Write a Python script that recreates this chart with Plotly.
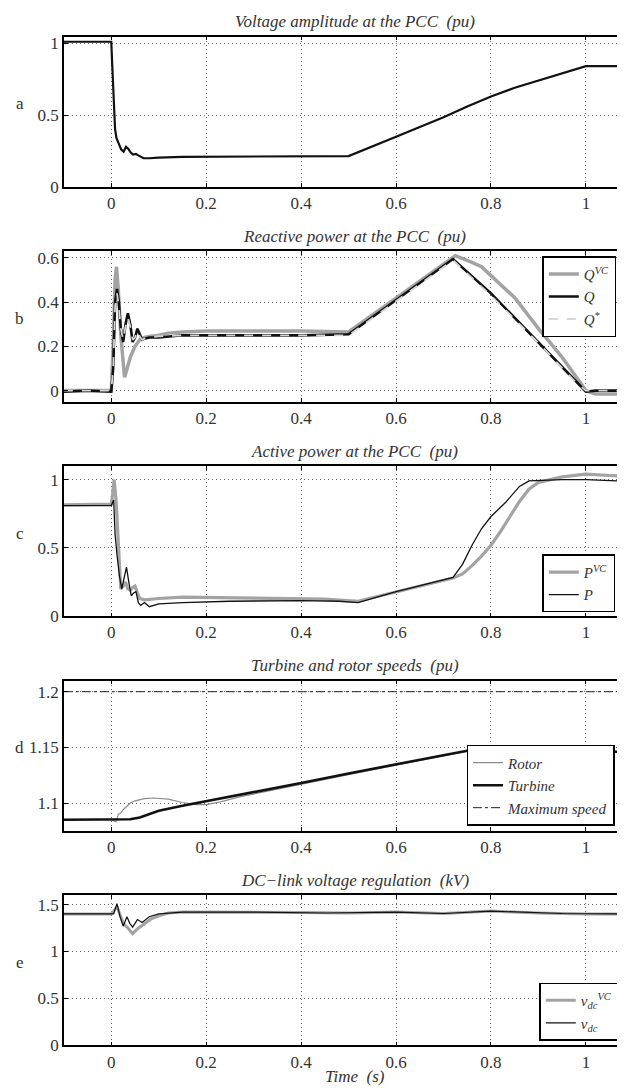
import plotly.graph_objects as go

# ---------------- data ----------------
# a) voltage amplitude at PCC
t_v = [-0.1, 0.0, 0.002, 0.005, 0.008, 0.011, 0.016, 0.021, 0.026, 0.031, 0.036, 0.041, 0.046,
       0.052, 0.057, 0.062, 0.068, 0.08, 0.1, 0.15, 0.3, 0.5, 0.6, 0.7, 0.75, 0.8, 0.85, 0.9,
       0.95, 1.0, 1.1]
v_pcc = [1.01, 1.01, 0.85, 0.6, 0.4, 0.34, 0.3, 0.26, 0.245, 0.28, 0.265, 0.24, 0.225,
         0.23, 0.22, 0.21, 0.2, 0.2, 0.205, 0.21, 0.212, 0.215, 0.35, 0.485, 0.56, 0.63, 0.69, 0.74,
         0.79, 0.84, 0.84]

# b) reactive power
t_qvc = [-0.1, 0.0, 0.004, 0.008, 0.011, 0.015, 0.02, 0.025, 0.028, 0.032, 0.04, 0.05, 0.06,
         0.07, 0.08, 0.1, 0.12, 0.15, 0.2, 0.3, 0.4, 0.5, 0.725, 0.76, 0.78, 0.8, 0.85, 0.9,
         0.95, 1.0, 1.02, 1.1]
q_vc = [0.0, 0.0, 0.2, 0.5, 0.56, 0.45, 0.25, 0.1, 0.06, 0.09, 0.15, 0.2, 0.23,
        0.24, 0.245, 0.25, 0.26, 0.265, 0.27, 0.27, 0.27, 0.265, 0.61, 0.58, 0.56, 0.52, 0.42, 0.28,
        0.15, 0.0, -0.015, -0.015]
t_q = [-0.1, -0.05, 0.0, 0.004, 0.008, 0.012, 0.016, 0.02, 0.025, 0.03, 0.035, 0.04, 0.045,
       0.05, 0.055, 0.06, 0.065, 0.07, 0.08, 0.1, 0.15, 0.2, 0.3, 0.4, 0.5, 0.72, 0.8, 0.9,
       0.98, 1.0, 1.02, 1.1]
q = [-0.005, 0.0, -0.005, 0.1, 0.4, 0.46, 0.4, 0.28, 0.22, 0.3, 0.35, 0.3, 0.22,
     0.24, 0.28, 0.25, 0.23, 0.235, 0.24, 0.24, 0.25, 0.25, 0.25, 0.25, 0.255, 0.595, 0.44, 0.22,
     0.04, -0.005, 0.0, 0.0]
q_ref = [0.0, 0.0, 0.0, 0.1, 0.38, 0.44, 0.38, 0.28, 0.23, 0.29, 0.33, 0.29, 0.23,
         0.24, 0.27, 0.245, 0.23, 0.235, 0.24, 0.245, 0.25, 0.25, 0.25, 0.25, 0.25, 0.59, 0.43, 0.215,
         0.035, 0.0, 0.0, 0.0]

# c) active power
t_pvc = [-0.1, 0.0, 0.003, 0.006, 0.01, 0.015, 0.02, 0.025, 0.03, 0.035, 0.04, 0.045, 0.05,
         0.055, 0.06, 0.07, 0.1, 0.15, 0.3, 0.45, 0.52, 0.6, 0.68, 0.72, 0.74, 0.76, 0.78, 0.8,
         0.82, 0.84, 0.86, 0.88, 0.9, 0.95, 1.0, 1.05, 1.1]
p_vc = [0.815, 0.82, 0.9, 1.0, 0.85, 0.5, 0.2, 0.22, 0.25, 0.2, 0.19, 0.21, 0.22,
        0.17, 0.13, 0.12, 0.13, 0.14, 0.135, 0.125, 0.11, 0.18, 0.25, 0.28, 0.31, 0.37, 0.44, 0.52,
        0.62, 0.73, 0.84, 0.93, 0.98, 1.02, 1.04, 1.03, 1.02]
t_p = [-0.1, 0.0, 0.005, 0.008, 0.012, 0.017, 0.022, 0.027, 0.032, 0.037, 0.042, 0.047, 0.052,
       0.057, 0.062, 0.07, 0.08, 0.1, 0.15, 0.25, 0.4, 0.48, 0.52, 0.6, 0.68, 0.72, 0.74, 0.76,
       0.78, 0.8, 0.83, 0.86, 0.88, 0.95, 1.0, 1.1]
p = [0.81, 0.81, 0.85, 0.6, 0.45, 0.3, 0.2, 0.28, 0.36, 0.25, 0.15, 0.17, 0.18,
     0.1, 0.08, 0.1, 0.07, 0.09, 0.1, 0.11, 0.115, 0.11, 0.1, 0.18, 0.25, 0.285, 0.38, 0.52,
     0.64, 0.73, 0.83, 0.95, 0.99, 1.0, 1.0, 0.985]

# d) turbine and rotor speeds
t_rot = [-0.1, 0.0, 0.006, 0.01, 0.015, 0.02, 0.025, 0.03, 0.04, 0.05, 0.07, 0.09, 0.12, 0.15,
         0.18, 0.2, 0.23, 0.27, 0.4, 0.5, 0.6, 0.7, 0.75, 0.8, 0.85, 0.9, 0.95, 1.0, 1.1]
w_rot = [1.085, 1.085, 1.084, 1.083, 1.09, 1.091, 1.094, 1.096, 1.1, 1.102, 1.104, 1.1045, 1.1035, 1.1005,
         1.0985, 1.0985, 1.101, 1.1055, 1.117, 1.1255, 1.134, 1.1425, 1.1465, 1.1435, 1.143, 1.145, 1.1495, 1.1475, 1.1455]
t_turb = [-0.1, 0.04, 0.06, 0.08, 0.1, 0.15, 0.2, 0.3, 0.4, 0.5, 0.6, 0.7, 0.75, 0.8, 0.85,
          0.9, 1.0, 1.1]
w_turb = [1.085, 1.0855, 1.087, 1.09, 1.093, 1.0975, 1.1015, 1.1095, 1.118, 1.1265, 1.135, 1.143, 1.147, 1.1505, 1.151,
          1.1495, 1.147, 1.1455]
t_max = [-0.1, 1.1]
w_max = [1.2, 1.2]

# e) DC-link voltage
t_vdcvc = [-0.1, 0.0, 0.005, 0.012, 0.018, 0.025, 0.035, 0.045, 0.055, 0.07, 0.085, 0.1, 0.12,
           0.15, 0.2, 0.4, 0.5, 0.6, 0.7, 0.8, 0.9, 1.0, 1.1]
v_dc_vc = [1.4, 1.4, 1.43, 1.48, 1.4, 1.3, 1.25, 1.19, 1.24, 1.3, 1.35, 1.38, 1.41,
           1.42, 1.42, 1.415, 1.41, 1.42, 1.405, 1.43, 1.41, 1.4, 1.4]
t_vdc = [-0.1, 0.005, 0.012, 0.018, 0.025, 0.033, 0.039, 0.045, 0.055, 0.065, 0.08, 0.1, 0.15,
         0.3, 0.45, 0.6, 0.7, 0.8, 0.95, 1.1]
v_dc = [1.4, 1.4, 1.51, 1.38, 1.27, 1.37, 1.3, 1.26, 1.34, 1.31, 1.37, 1.4, 1.42,
        1.42, 1.41, 1.42, 1.405, 1.43, 1.405, 1.4]

titles = ["Voltage amplitude at the PCC \u00a0(pu)", "Reactive power at the PCC \u00a0(pu)",
          "Active power at the PCC \u00a0(pu)", "Turbine and rotor speeds \u00a0(pu)",
          "DC\u2212link voltage regulation \u00a0(kV)"]
letters = ["a", "b", "c", "d", "e"]
x_ticks = [0, 0.2, 0.4, 0.6, 0.8, 1]
x_labels = ["0", "0.2", "0.4", "0.6", "0.8", "1"]
y_ticks = [[0, 0.5, 1], [0, 0.2, 0.4, 0.6], [0, 0.5, 1], [1.1, 1.15, 1.2], [0, 0.5, 1, 1.5]]
y_ranges = [[0, 1.045], [-0.05, 0.63], [0, 1.1], [1.075, 1.21], [0, 1.6]]

# ---------------- layout geometry ----------------
W, H = 625, 1091
FONT = "Liberation Serif, Times New Roman, Times, serif"
left_px, right_px = 56, 625
tops = [27, 244, 461, 678, 895]
ph = 152

GRAY = "#a3a3a3"
LIGHT = "#d6d6d6"
TXT = "#333333"

fig = go.Figure()


def add(xs, ys, k, name=None, color="black", width=1.5, dash="solid", legend="legend"):
    fig.add_trace(go.Scatter(
        x=xs, y=ys, mode="lines", name=name,
        line=dict(color=color, width=width, dash=dash),
        xaxis="x" if k == 0 else f"x{k+1}", yaxis="y" if k == 0 else f"y{k+1}",
        showlegend=name is not None, legend=legend,
    ))


add(t_v, v_pcc, 0, color="#111111", width=2.2)

add(t_qvc, q_vc, 1, "<i>Q</i><sup><i>VC</i></sup>", GRAY, 3.5, legend="legend")
add(t_q, q, 1, "<i>Q</i>", "#111111", 2.6, legend="legend")
add(t_q, q_ref, 1, "<i>Q</i><sup>*</sup>", LIGHT, 1.8, "dash", legend="legend")

add(t_pvc, p_vc, 2, "<i>P</i><sup><i>VC</i></sup>", GRAY, 3.2, legend="legend2")
add(t_p, p, 2, "<i>P</i>", "#111111", 1.3, legend="legend2")

add(t_rot, w_rot, 3, "<i>Rotor</i>", "#8c8c8c", 1.2, legend="legend3")
add(t_turb, w_turb, 3, "<i>Turbine</i>", "#111111", 2.6, legend="legend3")
add(t_max, w_max, 3, "<i>Maximum speed</i>", "#222222", 1.0, "dashdot", legend="legend3")

add(t_vdcvc, v_dc_vc, 4, "<i>v</i><sub><i>dc</i></sub><sup><i>VC</i></sup>", GRAY, 3.0, legend="legend4")
add(t_vdc, v_dc, 4, "<i>v</i><sub><i>dc</i></sub>", "#111111", 1.2, legend="legend4")

layout = dict(
    width=W, height=H, margin=dict(l=0, r=0, t=0, b=0),
    paper_bgcolor="white", plot_bgcolor="white",
    font=dict(family=FONT, size=17, color=TXT),
)
annotations = []
grid = dict(showgrid=True, gridcolor="#666666", griddash="1px,3px", gridwidth=1, zeroline=False)
for k in range(5):
    sx = "" if k == 0 else str(k + 1)
    top, bot = tops[k], tops[k] + ph
    dom_y = [1 - bot / H, 1 - top / H]
    layout["xaxis" + sx] = dict(
        domain=[left_px / W, right_px / W], range=[-0.1, 1.095], anchor="y" + sx,
        tickvals=x_ticks, ticktext=x_labels,
        ticks="inside", ticklen=4, tickcolor="black", showline=True, linecolor="black",
        linewidth=1.5, mirror="ticks", tickfont=dict(family=FONT, size=17, color=TXT), **grid,
    )
    layout["yaxis" + sx] = dict(
        domain=dom_y, range=y_ranges[k], anchor="x" + sx,
        tickvals=y_ticks[k], ticks="inside", ticklen=4, tickcolor="black", showline=True,
        linecolor="black", linewidth=1.5, mirror="ticks",
        tickfont=dict(family=FONT, size=17, color=TXT), **grid,
    )
    annotations.append(dict(
        text=f"<i>{titles[k]}</i>", xref="paper", yref="paper",
        x=348 / W, y=1 - (top - 15) / H, showarrow=False,
        xanchor="center", yanchor="middle", font=dict(family=FONT, size=17, color=TXT),
    ))
    annotations.append(dict(
        text=letters[k], xref="paper", yref="paper", x=12 / W, y=1 - (top + ph / 2 - 8) / H,
        showarrow=False, xanchor="center", yanchor="middle",
        font=dict(family=FONT, size=17, color=TXT),
    ))
annotations.append(dict(
    text="<i>Time \u00a0(s)</i>", xref="paper", yref="paper", x=348 / W,
    y=1 - 1078 / H, showarrow=False, xanchor="center", yanchor="middle",
    font=dict(family=FONT, size=17, color=TXT),
))
layout["annotations"] = annotations

leg_common = dict(bgcolor="white", bordercolor="black", borderwidth=1.5,
                  font=dict(family=FONT, size=15, color=TXT), xanchor="left",
                  itemwidth=30, tracegroupgap=0)
layout["legend"] = dict(leg_common, x=536 / W, y=1 - 249 / H, yanchor="top")
layout["legend2"] = dict(leg_common, x=536 / W, y=1 - 609 / H, yanchor="bottom")
layout["legend3"] = dict(leg_common, x=460 / W, y=1 - 825 / H, yanchor="bottom")
layout["legend4"] = dict(leg_common, x=533 / W, y=1 - 1042 / H, yanchor="bottom")

fig.update_layout(**layout)
fig.write_html("out.html")
